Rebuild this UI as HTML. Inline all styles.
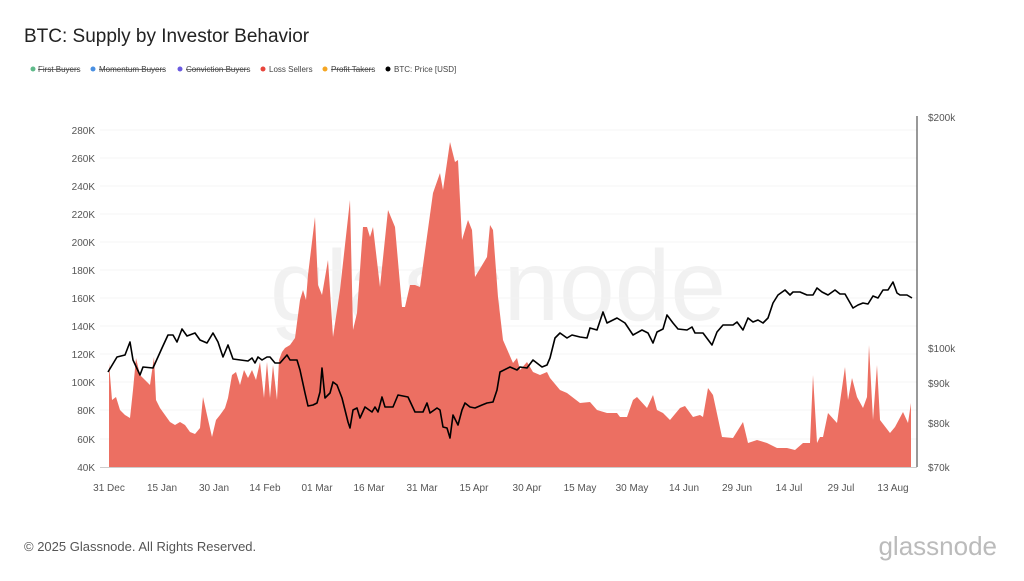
<!DOCTYPE html>
<html><head><meta charset="utf-8"><style>
body{margin:0;background:#fff;width:1024px;height:576px;overflow:hidden;font-family:"Liberation Sans",sans-serif}
</style></head><body>
<svg width="1024" height="576" xmlns="http://www.w3.org/2000/svg" font-family="Liberation Sans, sans-serif">
<text x="24" y="42" font-size="19" fill="#222">BTC: Supply by Investor Behavior</text>
<g font-size="8" fill="#444">
<circle cx="33" cy="69" r="2.5" fill="#5fba8a"/><text x="38" y="72">First Buyers</text><line x1="38" y1="69.5" x2="79" y2="69.5" stroke="#444" stroke-width="0.7"/>
<circle cx="93" cy="69" r="2.5" fill="#4a90e2"/><text x="99" y="72">Momentum Buyers</text><line x1="99" y1="69.5" x2="165" y2="69.5" stroke="#444" stroke-width="0.7"/>
<circle cx="180" cy="69" r="2.5" fill="#6a5ae0"/><text x="186" y="72">Conviction Buyers</text><line x1="186" y1="69.5" x2="248" y2="69.5" stroke="#444" stroke-width="0.7"/>
<circle cx="263" cy="69" r="2.5" fill="#e8453c"/><text x="269" y="72">Loss Sellers</text>
<circle cx="325" cy="69" r="2.5" fill="#f5a623"/><text x="331" y="72">Profit Takers</text><line x1="331" y1="69.5" x2="373" y2="69.5" stroke="#444" stroke-width="0.7"/>
<circle cx="388" cy="69" r="2.5" fill="#000"/><text x="394" y="72">BTC: Price [USD]</text>
</g>
<text x="498" y="320" font-size="100" fill="#000" fill-opacity="0.055" text-anchor="middle">glassnode</text>
<g stroke="#f4f4f4" stroke-width="1">
<line x1="100" y1="130" x2="917" y2="130"/><line x1="100" y1="158" x2="917" y2="158"/><line x1="100" y1="186" x2="917" y2="186"/><line x1="100" y1="214" x2="917" y2="214"/><line x1="100" y1="242" x2="917" y2="242"/><line x1="100" y1="270" x2="917" y2="270"/><line x1="100" y1="298" x2="917" y2="298"/><line x1="100" y1="326" x2="917" y2="326"/><line x1="100" y1="354" x2="917" y2="354"/><line x1="100" y1="382" x2="917" y2="382"/><line x1="100" y1="410" x2="917" y2="410"/><line x1="100" y1="439" x2="917" y2="439"/>
</g>
<polygon fill="#ec6f62" points="109,467 109,363 112,400 116,397 120,410 125,415 130,418 133,390 136,358 140,375 145,380 150,385 154,357 156,400 160,408 165,415 170,422 175,425 180,422 185,425 190,432 195,434 200,428 203,397 207,415 212,437 216,420 220,415 225,408 228,398 232,375 236,372 240,385 244,370 248,378 252,370 256,380 260,362 264,398 267,362 270,398 273,365 277,400 279,360 282,352 285,348 290,345 295,338 300,300 303,290 306,300 308,275 315,217 318,285 322,295 328,260 333,337 340,290 350,200 353,330 357,313 363,227 367,227 370,237 373,227 380,287 388,210 395,227 402,307 405,307 410,285 415,285 420,287 433,193 440,173 443,190 450,142 455,162 458,160 462,240 468,220 472,230 475,277 487,257 490,225 493,230 498,297 503,340 513,363 517,358 520,370 527,362 533,372 540,375 547,372 550,378 560,390 567,393 580,403 590,402 597,410 607,413 617,413 620,417 627,417 633,400 637,397 647,408 653,395 657,410 663,413 670,420 680,408 685,406 693,417 700,415 703,417 708,388 713,395 722,437 733,438 743,422 748,443 757,440 767,443 777,448 787,448 795,450 803,443 810,443 813,375 817,443 820,437 823,437 828,413 837,423 845,367 848,400 852,378 857,397 863,408 867,397 869,345 873,420 877,365 880,420 890,433 895,427 903,412 908,423 911,403 911,467"/>
<polyline fill="none" stroke="#000" stroke-width="1.6" stroke-linejoin="round" points="108,372 117,357 125,355 130,342 133,360 140,375 143,367 153,368 162,348 168,335 173,335 177,342 182,329 187,336 195,333 200,340 207,343 213,333 218,342 223,357 228,345 233,359 248,361 252,358 255,363 258,357 262,360 267,357 270,357 275,363 280,363 287,355 290,360 297,360 300,370 305,393 308,406 313,405 317,403 320,392 322,368 325,398 330,393 333,382 337,385 342,398 345,410 348,422 350,428 353,410 357,408 360,418 365,407 372,412 375,407 378,412 382,397 385,407 393,407 398,395 408,397 415,412 423,412 427,403 430,413 437,408 440,410 443,427 447,428 450,438 453,415 458,425 462,410 465,403 470,407 475,408 482,405 487,403 493,402 497,390 500,372 510,367 517,370 520,367 527,368 533,360 542,367 547,365 550,358 555,338 560,333 567,338 572,335 580,337 587,338 590,328 597,330 603,312 607,323 617,318 625,323 633,335 642,330 648,333 653,343 657,332 663,329 667,315 673,323 678,329 687,330 692,327 695,333 703,333 712,345 717,332 723,325 733,325 737,322 743,330 748,318 753,322 758,320 763,323 768,318 773,303 778,295 785,290 790,295 793,292 800,292 807,295 813,295 817,288 822,292 828,295 835,290 840,294 845,294 853,308 858,305 863,303 868,304 873,296 878,298 883,290 888,290 893,282 897,293 900,295 907,295 912,298"/>
<line x1="917" y1="116" x2="917" y2="467" stroke="#333" stroke-width="1"/>
<line x1="100" y1="467.5" x2="917" y2="467.5" stroke="#ccc" stroke-width="1"/>
<g font-size="10" fill="#555" text-anchor="end">
<text x="95" y="134">280K</text><text x="95" y="162">260K</text><text x="95" y="190">240K</text><text x="95" y="218">220K</text><text x="95" y="246">200K</text><text x="95" y="274">180K</text><text x="95" y="302">160K</text><text x="95" y="330">140K</text><text x="95" y="358">120K</text><text x="95" y="386">100K</text><text x="95" y="414">80K</text><text x="95" y="443">60K</text><text x="95" y="471">40K</text>
</g>
<g font-size="10" fill="#555">
<text x="928" y="121">$200k</text><text x="928" y="352">$100k</text><text x="928" y="387">$90k</text><text x="928" y="427">$80k</text><text x="928" y="471">$70k</text>
</g>
<g font-size="10" fill="#555" text-anchor="middle">
<text x="109" y="491">31 Dec</text><text x="162" y="491">15 Jan</text><text x="214" y="491">30 Jan</text><text x="265" y="491">14 Feb</text><text x="317" y="491">01 Mar</text><text x="369" y="491">16 Mar</text><text x="422" y="491">31 Mar</text><text x="474" y="491">15 Apr</text><text x="527" y="491">30 Apr</text><text x="580" y="491">15 May</text><text x="632" y="491">30 May</text><text x="684" y="491">14 Jun</text><text x="737" y="491">29 Jun</text><text x="789" y="491">14 Jul</text><text x="841" y="491">29 Jul</text><text x="893" y="491">13 Aug</text>
</g>
<text x="24" y="551" font-size="13" fill="#555">© 2025 Glassnode. All Rights Reserved.</text>
<text x="997" y="555" font-size="26" fill="#bbb" text-anchor="end">glassnode</text>
</svg>
</body></html>
